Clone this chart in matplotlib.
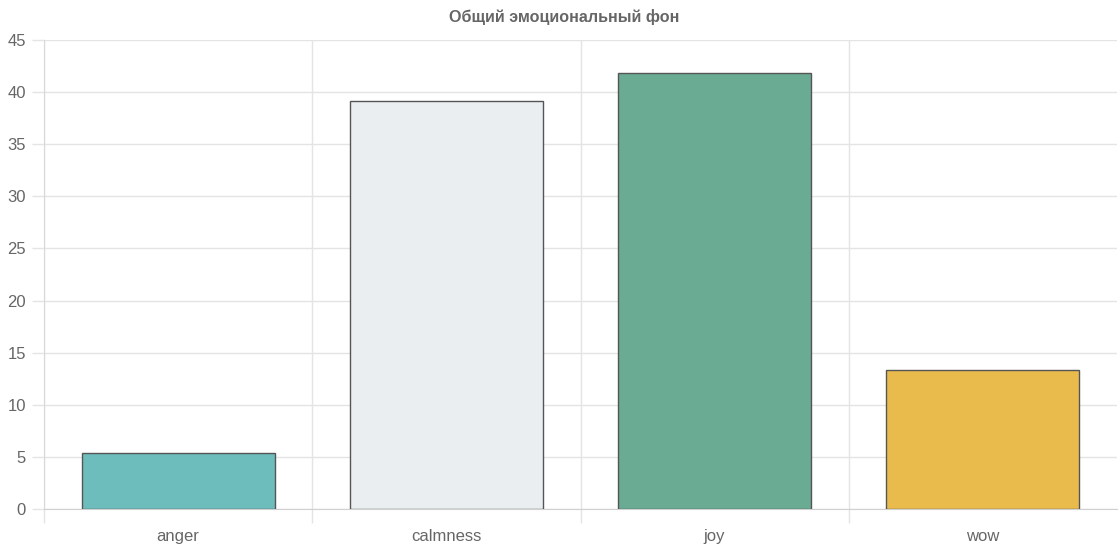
import matplotlib.pyplot as plt
from matplotlib.ticker import FixedLocator

labels = ['anger', 'calmness', 'joy', 'wow']
values = [5.37, 39.1, 41.78, 13.38]
colors = ['#6dbdbd', '#eaeef0', '#6aab94', '#e9bb4c']

plt.rcParams['font.family'] = ['Liberation Sans', 'DejaVu Sans']

fig = plt.figure(figsize=(11.19, 5.44), dpi=100)
ax = fig.add_axes([44 / 1119, 1 - 509.3 / 544, (1117 - 44) / 1119, (509.3 - 39.7) / 544])

x = list(range(len(labels)))
ax.bar(x, values, width=0.72, color=colors, edgecolor='#555555', linewidth=1.0, zorder=3)

ax.set_xlim(-0.5, len(labels) - 0.5)
ax.set_ylim(0, 45)
ax.set_yticks(range(0, 46, 5))
ax.set_xticks(x)
ax.set_xticklabels(labels)
ax.xaxis.set_minor_locator(FixedLocator([i + 0.5 for i in range(len(labels) - 1)] + [-0.5]))

ax.grid(axis='y', color='#e4e4e4', linewidth=1, zorder=0)
ax.grid(axis='x', which='minor', color='#e4e4e4', linewidth=1, zorder=0)
ax.tick_params(axis='x', which='major', length=0, pad=14, labelsize=12, labelcolor='#666666')
ax.tick_params(axis='x', which='minor', length=10, color='#e4e4e4', width=1)
ax.tick_params(axis='y', length=9, color='#e4e4e4', width=1, pad=4, labelsize=12, labelcolor='#666666')

for s in ['top', 'right']:
    ax.spines[s].set_visible(False)
ax.spines['left'].set_color('#d8d8d8')
ax.spines['bottom'].set_color('#d0d0d0')

fig.text(0.5 + 5 / 1119, 1 - 17 / 544, 'Общий эмоциональный фон', ha='center', va='center',
         fontsize=11.6, fontweight='bold', color='#666666')

fig.savefig('out.png', dpi=100)
